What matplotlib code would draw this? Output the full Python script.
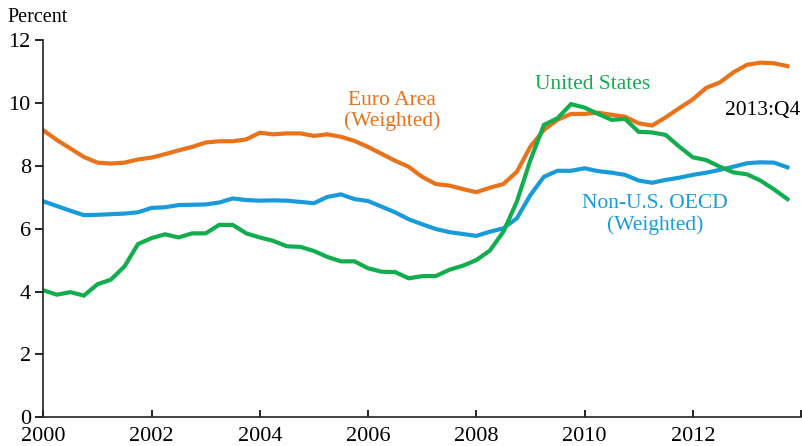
import numpy as np
import matplotlib
matplotlib.use("Agg")
import matplotlib.pyplot as plt

# Quarterly data 2000:Q1 - 2013:Q4
start_year = 2000
euro_area = [9.13, 8.82, 8.55, 8.28, 8.10, 8.07, 8.10, 8.20, 8.26, 8.37, 8.49, 8.60, 8.74, 8.78,
             8.78, 8.84, 9.05, 9.00, 9.03, 9.03, 8.95, 9.00, 8.92, 8.79, 8.60, 8.38, 8.16, 7.97,
             7.65, 7.42, 7.37, 7.26, 7.16, 7.30, 7.42, 7.81, 8.61, 9.14, 9.46, 9.65, 9.65, 9.69,
             9.62, 9.56, 9.35, 9.28, 9.54, 9.83, 10.11, 10.48, 10.65, 10.97, 11.21, 11.28, 11.26, 11.17]
non_us_oecd = [6.87, 6.72, 6.57, 6.43, 6.44, 6.46, 6.48, 6.52, 6.66, 6.68, 6.75, 6.76, 6.77, 6.83,
               6.96, 6.91, 6.89, 6.90, 6.89, 6.85, 6.81, 7.01, 7.09, 6.94, 6.88, 6.70, 6.52, 6.30,
               6.14, 5.99, 5.89, 5.83, 5.77, 5.90, 6.01, 6.33, 7.07, 7.65, 7.84, 7.84, 7.92, 7.83,
               7.78, 7.71, 7.53, 7.46, 7.55, 7.62, 7.71, 7.78, 7.87, 7.97, 8.08, 8.11, 8.10, 7.95]
united_states = [4.04, 3.90, 3.98, 3.87, 4.23, 4.38, 4.80, 5.51, 5.70, 5.82, 5.72, 5.85, 5.85, 6.12,
                 6.12, 5.85, 5.72, 5.61, 5.44, 5.42, 5.29, 5.10, 4.96, 4.96, 4.74, 4.63, 4.62, 4.42,
                 4.49, 4.49, 4.69, 4.82, 5.00, 5.30, 5.90, 6.86, 8.18, 9.30, 9.51, 9.96, 9.85, 9.65,
                 9.46, 9.49, 9.08, 9.06, 8.98, 8.61, 8.27, 8.18, 7.97, 7.79, 7.73, 7.53, 7.25, 6.94]

x_ticks = [2000, 2002, 2004, 2006, 2008, 2010, 2012, 2014]
x_labels = ["2000", "2002", "2004", "2006", "2008", "2010", "2012", ""]
y_ticks = [0, 2, 4, 6, 8, 10, 12]

t = start_year + np.arange(len(euro_area)) / 4.0

c_orange = "#E8731B"
c_blue = "#1A9BD9"
c_green = "#12AD4E"

plt.rcParams['font.family'] = ['Liberation Serif', 'DejaVu Serif']

fig = plt.figure(figsize=(8.02, 4.46), dpi=100)
W, H = 802, 446
ax = fig.add_axes([43.3 / W, (H - 417.3) / H, (801 - 43.3) / W, (417.3 - 40) / H])

lw = 3.0
ax.plot(t, non_us_oecd, color=c_blue, lw=lw, solid_joinstyle='miter')
ax.plot(t, euro_area, color=c_orange, lw=lw, solid_joinstyle='miter')
ax.plot(t, united_states, color=c_green, lw=lw, solid_joinstyle='miter')

ax.set_xlim(2000, 2014)
ax.set_ylim(0, 12)
ax.set_xticks(x_ticks)
ax.set_xticklabels(x_labels)
ax.set_yticks(y_ticks)
ax.tick_params(axis='x', direction='in', length=5, width=1.2, labelsize=16, pad=7)
ax.tick_params(axis='y', direction='out', length=6, width=1.2, labelsize=16, pad=3)
for s in ['top', 'right']:
    ax.spines[s].set_visible(False)
for s in ['left', 'bottom']:
    ax.spines[s].set_linewidth(1.2)
    ax.spines[s].set_color('#222222')

fig.text(7 / W, 1 - 17 / H, "Percent", fontsize=14.5, va='center', ha='left')

ax.text(2006.45, 9.75, "Euro Area\n(Weighted)", color=c_orange, fontsize=15.5, ha='center',
        va='center', linespacing=1.1)
ax.text(2010.15, 10.6, "United States", color=c_green, fontsize=15.5, ha='center', va='center')
ax.text(2013.3, 9.75, "2013:Q4", color='black', fontsize=15.5, ha='center', va='center')
ax.text(2011.3, 6.45, "Non-U.S. OECD\n(Weighted)", color=c_blue, fontsize=15.5, ha='center',
        va='center', linespacing=1.1)

fig.savefig("out.png", dpi=100)
